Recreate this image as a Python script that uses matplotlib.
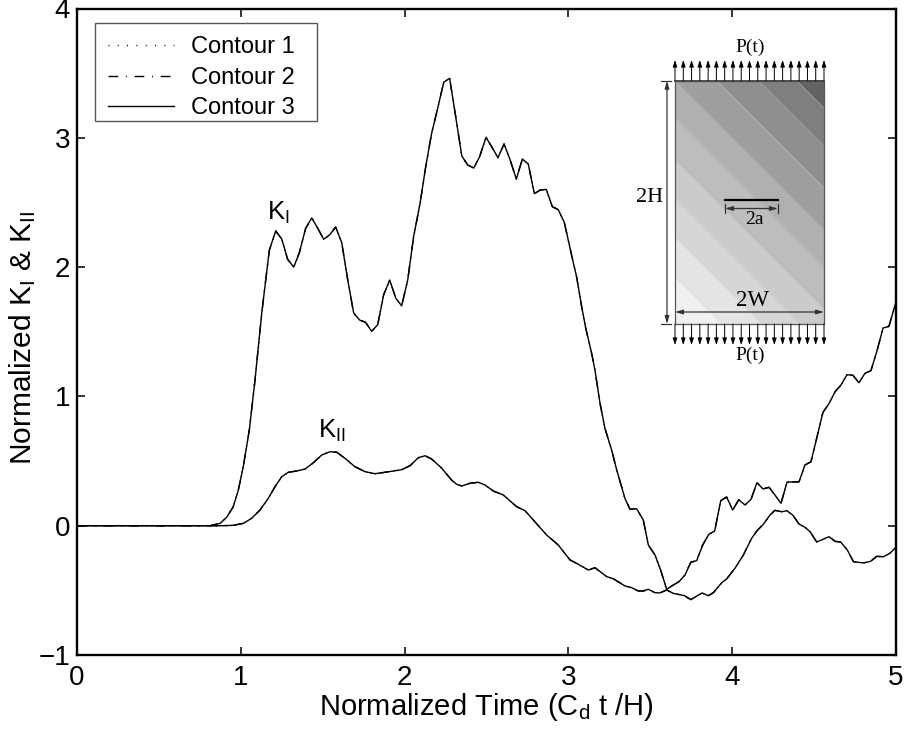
## Importing necessary libraries
import numpy as np
import matplotlib
matplotlib.use('Agg')
import matplotlib.pyplot as plt
from matplotlib.patches import Rectangle

plt.rcParams['font.family'] = ['Liberation Sans', 'DejaVu Sans']
plt.rcParams['mathtext.fontset'] = 'custom'
plt.rcParams['mathtext.rm'] = 'Liberation Sans'
plt.rcParams['mathtext.default'] = 'regular'

## Values
t_I = [0, .75, .812, .873, .914, .954, .985, 1.015, 1.052, 1.087, 1.128, 1.174, 1.213, 1.25, 1.286, 1.323,
       1.357, 1.396, 1.433, 1.47, 1.506, 1.543, 1.579, 1.616, 1.653, 1.689, 1.726, 1.762, 1.799, 1.836,
       1.872, 1.909, 1.946, 1.982, 2.019, 2.055, 2.094, 2.129, 2.165, 2.202, 2.239, 2.275, 2.312, 2.349,
       2.385, 2.422, 2.458, 2.497, 2.534, 2.57, 2.607, 2.643, 2.682, 2.719, 2.755, 2.792, 2.828, 2.865,
       2.902, 2.938, 2.975, 3.026, 3.05, 3.081, 3.106, 3.142, 3.162, 3.193, 3.223, 3.264, 3.295, 3.345,
       3.376, 3.417, 3.457, 3.488, 3.529, 3.563, 3.6, 3.64, 3.675, 3.712, 3.747, 3.783, 3.82, 3.857,
       3.893, 3.93, 3.966, 4.003, 4.04, 4.078, 4.115, 4.151, 4.188, 4.225, 4.261, 4.298, 4.335, 4.371,
       4.408, 4.444, 4.481, 4.518, 4.554, 4.591, 4.628, 4.664, 4.701, 4.737, 4.774, 4.811, 4.847, 4.884,
       4.921, 4.957, 5.0]
k_I = [0, 0, 0, .018, .065, .147, .276, .456, .74, 1.13, 1.645, 2.13, 2.28, 2.217, 2.06, 2.0,
       2.11, 2.30, 2.38, 2.30, 2.215, 2.25, 2.31, 2.19, 1.90, 1.645, 1.59, 1.573, 1.503, 1.555,
       1.785, 1.90, 1.76, 1.70, 1.90, 2.235, 2.49, 2.777, 3.035, 3.228, 3.43, 3.46, 3.163, 2.86,
       2.79, 2.766, 2.854, 3.004, 2.926, 2.846, 2.952, 2.834, 2.681, 2.836, 2.797, 2.568, 2.596, 2.601,
       2.467, 2.444, 2.346, 2.055, 1.926, 1.694, 1.527, 1.333, 1.204, .947, .753, .585, .431, .212,
       .127, .131, .044, -.149, -.227, -.343, -.492, -.459, -.433, -.381, -.283, -.27, -.149, -.067,
       -.041, .193, .222, .121, .201, .16, .204, .333, .284, .297, .237, .173, .338, .338,
       .34, .469, .495, .688, .877, .944, 1.036, 1.088, 1.168, 1.163, 1.106, 1.179, 1.199, 1.353,
       1.529, 1.542, 1.732]

t_II = [0, .85, .893, .954, 1.015, 1.066, 1.117, 1.168, 1.209, 1.25, 1.29, 1.341, 1.392, 1.443, 1.494, 1.545,
        1.586, 1.636, 1.697, 1.758, 1.819, 1.88, 1.982, 2.033, 2.084, 2.125, 2.165, 2.227, 2.287, 2.318,
        2.349, 2.399, 2.45, 2.491, 2.542, 2.603, 2.684, 2.735, 2.786, 2.867, 2.938, 3.01, 3.05, 3.122,
        3.162, 3.234, 3.274, 3.345, 3.386, 3.427, 3.457, 3.488, 3.529, 3.559, 3.6, 3.64, 3.708, 3.747,
        3.816, 3.854, 3.885, 3.936, 3.966, 4.017, 4.068, 4.119, 4.15, 4.19, 4.231, 4.261, 4.302, 4.333,
        4.369, 4.408, 4.444, 4.475, 4.516, 4.591, 4.628, 4.662, 4.703, 4.74, 4.801, 4.846, 4.882, 4.923,
        4.963, 5.0]
k_II = [0, 0, 0, .003, .018, .057, .121, .212, .302, .379, .413, .423, .438, .487, .547, .572,
        .568, .521, .456, .418, .402, .413, .433, .464, .526, .541, .516, .444, .353, .32,
        .307, .328, .336, .315, .268, .237, .147, .116, .044, -.072, -.149, -.265, -.291, -.343,
        -.325, -.394, -.41, -.466, -.479, -.505, -.505, -.492, -.518, -.52, -.497, -.523, -.541, -.572,
        -.52, -.541, -.518, -.441, -.412, -.329, -.227, -.097, -.041, .011, .083, .119, .108, .116,
        .083, .013, -.012, -.046, -.126, -.085, -.121, -.126, -.188, -.278, -.288, -.275, -.237, -.24,
        -.213, -.167]

x_ticks = [0, 1, 2, 3, 4, 5]
y_ticks = [-1, 0, 1, 2, 3, 4]
legend_labels = ['Contour 1', 'Contour 2', 'Contour 3']

# inset schematic: band edges along the diagonal and the grey of each band
band_edges = [-1000, -665, -545, -430, -315, -190, -77, 48, 173, 288, 1000]
band_greys = ['#f0f0f0', '#e4e4e4', '#d6d6d6', '#cbcbcb', '#bdbdbd', '#b0b0b0', '#9e9e9e', '#8e8e8e', '#7f7f7f', '#636363']

W, H = 905, 734
fig = plt.figure(figsize=(W / 100, H / 100), dpi=100)
ax = fig.add_axes([77 / W, (H - 655) / H, (896 - 77) / W, (655 - 8.5) / H])

## Main curves, all three contours sit on top of each other
styles = [(0, (0.7, 6)), (0, (7, 5.5, 0.8, 5.5)), '-']
for style, lab in zip(styles, legend_labels):
    ax.plot(t_I, k_I, color='k', ls=style, lw=1.0, label=lab)
    ax.plot(t_II, k_II, color='k', ls=style, lw=1.0)

ax.set_xlim(0, 5)
ax.set_ylim(-1, 4)
ax.set_xticks(x_ticks)
ax.set_yticks(y_ticks)
ax.tick_params(direction='in', top=True, right=True, length=6, width=1.1, labelsize=20)
ax.tick_params(axis='x', pad=7.5)
ax.tick_params(axis='y', pad=5)
for s in ax.spines.values():
    s.set_linewidth(1.7)
ax.set_xlabel(r'Normalized Time (C$_{d}$ t /H)', fontsize=21, labelpad=0)
ax.set_ylabel(r'Normalized K$_{I}$ & K$_{II}$', fontsize=21.5)
ax.yaxis.set_label_coords((38 - 77) / 819, (655 - 338) / 646.5)
ax.text(1.158, 2.364, r'K$_{I}$', fontsize=18.5)
ax.text(1.47, 0.68, r'K$_{II}$', fontsize=18.5)

# legend frame is drawn by hand, the reference box is wider on the right than on the left
ax.add_patch(Rectangle((95 / W, 1 - 120.7 / H), 222 / W, 98 / H, transform=fig.transFigure,
                       fc='white', ec='#555555', lw=1.0, zorder=2.5))
leg = ax.legend(loc='upper left', bbox_to_anchor=(18 / 819, 1 - 15 / 646.5), borderaxespad=0, fontsize=17,
                frameon=False, handlelength=2.8, handletextpad=0.7, labelspacing=0.36, borderpad=0.55)
leg.set_zorder(3)

## Inset plate, drawn in its own overlay axes in pixel space
over = fig.add_axes([0, 0, 1, 1], zorder=5)
over.set_xlim(0, W)
over.set_ylim(H, 0)
over.axis('off')
over.patch.set_alpha(0)

left, right, top, bot = 675, 824, 80.7, 324
xs = np.linspace(left, right, 200)
ys = np.linspace(top, bot, 300)
xx, yy = np.meshgrid(xs, ys)
# edges were read in the 3x crop, so compare in that scale
field = (xx - 650) * 3 - (yy - 30) * 3
over.contourf(xx, yy, field, levels=band_edges, colors=band_greys)
over.contour(xx, yy, field, levels=band_edges[1:-1], colors='#d8d8d8', linewidths=0.3)
over.plot([left, right, right, left, left], [top, top, bot, bot, top], color='#555555', lw=0.9)
over.plot([left, right], [top, top], color='#444444', lw=1.1)

# load arrows along both loaded edges
head = dict(arrowstyle='-|>,head_width=0.13,head_length=0.4', lw=0.7, color='k', shrinkA=0, shrinkB=0)
for x in np.linspace(left, right, 19):
    over.annotate('', xy=(x, 60), xytext=(x, top), arrowprops=head)
    over.annotate('', xy=(x, 345), xytext=(x, bot), arrowprops=head)

dim = dict(arrowstyle='<|-|>,head_width=0.13,head_length=0.45', lw=0.9, color='#333333', shrinkA=0, shrinkB=0)
over.annotate('', xy=(667, top), xytext=(667, bot), arrowprops=dim)
over.plot([661, 671], [top, top], color='#333333', lw=0.9)
over.plot([661, 671], [bot, bot], color='#333333', lw=0.9)
over.annotate('', xy=(left, 312), xytext=(right, 312), arrowprops=dim)
over.plot([725, 778], [200, 200], color='k', lw=1.6)
over.annotate('', xy=(725, 208.5), xytext=(778, 208.5), arrowprops=dim)
over.plot([725, 725], [204, 213], color='#333333', lw=0.9)
over.plot([778, 778], [204, 213], color='#333333', lw=0.9)

serif = ['Liberation Serif', 'DejaVu Serif']
over.text(750, 47, 'P(t)', family=serif, fontsize=14, ha='center', va='center')
over.text(750, 355, 'P(t)', family=serif, fontsize=14, ha='center', va='center')
over.text(650, 198, '2H', family=serif, fontsize=16, ha='center', va='center')
over.text(754, 220, '2a', family=serif, fontsize=14, ha='center', va='center')
over.text(752, 301, '2W', family=serif, fontsize=16.5, ha='center', va='center')

fig.savefig('out.png', dpi=100)
